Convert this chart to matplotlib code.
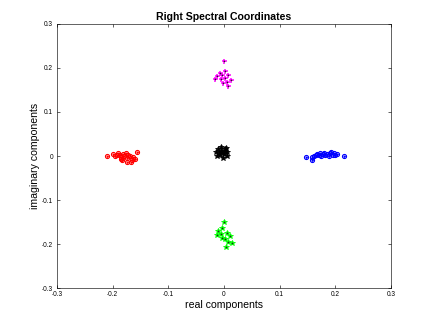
import numpy as np
import matplotlib
matplotlib.use("Agg")
import matplotlib.pyplot as plt

plt.rcParams['font.family'] = ['Liberation Sans', 'DejaVu Sans']

# spectral coordinates, one cluster per colour
red_x = [-0.211, -0.199, -0.196, -0.192, -0.190, -0.187, -0.185, -0.181, -0.180, -0.176, -0.174,
         -0.172, -0.169, -0.183, -0.185, -0.165, -0.163, -0.167, -0.174, -0.160, -0.156]
red_y = [0.001, 0.005, 0.000, 0.002, 0.007, 0.002, -0.002, 0.005, 0.000, 0.007, -0.005,
         0.002, 0.000, -0.009, -0.007, -0.009, -0.002, -0.014, -0.014, -0.007, 0.010]

blue_x = [0.147, 0.158, 0.158, 0.162, 0.165, 0.168, 0.170, 0.173, 0.175, 0.178, 0.180,
          0.182, 0.185, 0.188, 0.190, 0.193, 0.195, 0.197, 0.200, 0.203, 0.216]
blue_y = [-0.002, -0.002, -0.009, 0.001, 0.003, 0.005, 0.002, 0.006, 0.000, 0.004, 0.007,
          0.002, 0.005, 0.001, 0.006, 0.008, 0.003, 0.007, 0.002, 0.004, 0.000]

magenta_x = [0.000, 0.002, -0.007, -0.013, -0.016, -0.005, 0.002, 0.008, 0.013, 0.005, -0.001, 0.007, -0.004]
magenta_y = [0.216, 0.193, 0.188, 0.182, 0.175, 0.175, 0.178, 0.184, 0.173, 0.169, 0.166, 0.158, 0.183]

green_x = [0.000, -0.003, -0.010, -0.013, -0.005, 0.005, 0.011, 0.002, 0.008, 0.014, 0.003, -0.004]
green_y = [-0.151, -0.164, -0.170, -0.180, -0.178, -0.176, -0.181, -0.189, -0.195, -0.198, -0.206, -0.187]

black_x = [-0.015, -0.010, -0.008, -0.005, -0.003, 0.000, 0.002, 0.005, 0.006, -0.012, -0.002, 0.003, -0.006, 0.001, -0.009]
black_y = [0.008, 0.015, 0.002, 0.020, 0.010, 0.005, 0.015, 0.000, 0.010, 0.000, -0.004, 0.018, 0.012, 0.008, 0.006]

ticks = [-0.3, -0.2, -0.1, 0, 0.1, 0.2, 0.3]
tick_labels = ['-0.3', '-0.2', '-0.1', '0', '0.1', '0.2', '0.3']

fig = plt.figure(figsize=(6, 4.5), dpi=72)
ax = fig.add_axes([0.132, 0.111, 0.773, 0.815])

ax.plot(red_x, red_y, 'o', color='red', mfc='none', ms=4, mew=1.2)
ax.plot(red_x, red_y, '+', color='red', ms=3, mew=0.8)
ax.plot(blue_x, blue_y, 'o', color='blue', mfc='none', ms=4, mew=1.2)
ax.plot(blue_x, blue_y, '+', color='blue', ms=3, mew=0.8)
ax.plot(magenta_x, magenta_y, '+', color='magenta', ms=5, mew=1.5)
ax.plot(green_x, green_y, '*', color='#00ff00', ms=6, mew=0.8)
ax.plot(black_x, black_y, '*', color='black', ms=6, mew=0.8)

# small dark crosses inside the coloured clusters
for xs, ys in [(magenta_x, magenta_y), (green_x, green_y)]:
    ax.plot(xs, ys, '+', color='#222222', ms=2, mew=0.5)

ax.set_xlim(-0.3, 0.3)
ax.set_ylim(-0.3, 0.3)
ax.set_xticks(ticks)
ax.set_xticklabels(tick_labels)
ax.set_yticks(ticks)
ax.set_yticklabels(tick_labels)
ax.tick_params(direction='in', top=True, right=True, labelsize=6.5, length=3, width=0.6)
ax.tick_params(axis='x', pad=3)
ax.tick_params(axis='y', pad=4)
for s in ax.spines.values():
    s.set_linewidth(0.6)

ax.set_title("Right Spectral Coordinates", fontsize=10.5, fontweight='bold', pad=4)
ax.set_xlabel("real components", fontsize=10.5, labelpad=2)
ax.set_ylabel("imaginary components", fontsize=10.5, labelpad=2)

fig.savefig("out.png", dpi=72)
